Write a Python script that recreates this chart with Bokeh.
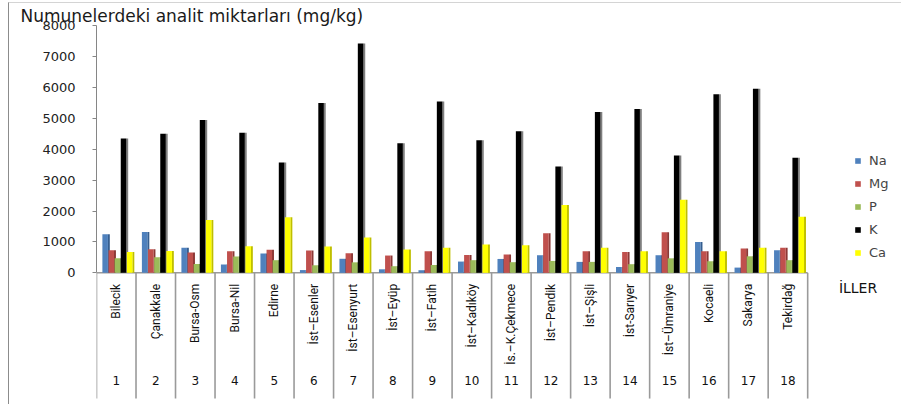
from math import pi
import numpy as np
from bokeh.plotting import figure
from bokeh.models import (ColumnDataSource, Legend, LegendItem, Label, Range1d, FixedTicker)
from bokeh.transform import dodge
from bokeh.embed import file_html
from bokeh.resources import INLINE

# ---------------- data ----------------
numbers = [str(i) for i in range(1, 19)]
provinces = ["Bilecik", "Çanakkale", "Bursa-Osm", "Bursa-Nil", "Edirne", "İst–Esenler",
             "İst–Esenyurt", "İst–Eyüp", "İst–Fatih", "İst–Kadıköy", "İs.–K.Çekmece",
             "İst–Pendik", "İst–Şişli", "İst-Sarıyer", "İst–Ümraniye", "Kocaeli",
             "Sakarya", "Tekirdağ"]
series_names = ["Na", "Mg", "P", "K", "Ca"]
Na = [1250, 1320, 810, 270, 630, 90, 455, 115, 85, 365, 450, 570, 355, 190, 570, 1000, 170, 730]
Mg = [730, 760, 655, 700, 750, 720, 635, 560, 700, 580, 590, 1280, 700, 675, 1310, 700, 785, 815]
P = [470, 505, 290, 525, 410, 245, 340, 215, 255, 410, 345, 385, 355, 280, 470, 375, 535, 410]
K = [4345, 4495, 4945, 4535, 3570, 5495, 7420, 4195, 5540, 4290, 4580, 3440, 5205, 5300, 3795, 5775, 5955, 3720]
Ca = [675, 710, 1710, 860, 1795, 850, 1140, 755, 815, 915, 890, 2195, 815, 700, 2365, 700, 815, 1815]
y_ticks = [0, 1000, 2000, 3000, 4000, 5000, 6000, 7000, 8000]
title_text = "Numunelerdeki analit miktarları (mg/kg)"
x_title = "İLLER"

colors = ["#4F81BD", "#C0504D", "#9BBB59", "#000000", "#FFFF00"]
side_colors = ["#355E8F", "#8C3836", "#728C40", "#7F7F7F", "#BFBF00"]

pos = np.arange(1, len(numbers) + 1)
source = ColumnDataSource(dict(x=pos, Na=Na, Mg=Mg, P=P, K=K, Ca=Ca,
                               name=provinces, num=numbers))

Y_BOTTOM = -4290
p = figure(width=893, height=402, x_range=Range1d(0.5, 20.9), y_range=Range1d(Y_BOTTOM, 8000),
           output_backend="svg", toolbar_location=None, x_axis_location=None)
p.min_border = 0
p.min_border_left = 87
p.min_border_right = 0
p.min_border_top = 21
p.min_border_bottom = 0
p.outline_line_color = None
p.xgrid.visible = False
p.ygrid.visible = False
p.styles = {"margin-left": "8px", "margin-top": "2px",
            "border-left": "1px solid #8c8c8c", "border-top": "1px solid #d4d4d4"}

# title
p.title.text = title_text
p.title.align = "left"
p.title.offset = -76
p.title.standoff = 0
p.title.text_font = "DejaVu Sans"
p.title.text_font_size = "17px"
p.title.text_font_style = "normal"
p.title.text_color = "#1a1a1a"

# category separators and base line
bounds = np.arange(0.5, len(numbers) + 1, 1.0)
p.segment(x0=bounds, y0=np.zeros_like(bounds), x1=bounds, y1=np.full_like(bounds, -4065),
          line_color="#9a9a9a", line_width=1.6)
p.segment(x0=[0.5], y0=[0], x1=[len(numbers) + 0.5], y1=[0], line_color="#9a9a9a", line_width=1.5)

# bars (face + darker side strip)
offsets = [-0.256, -0.101, 0.054, 0.209, 0.364]
renderers = []
for name, off, col, sc in zip(series_names, offsets, colors, side_colors):
    p.vbar(x=dodge("x", off + 0.068), top=name, width=0.05, source=source,
           fill_color=sc, line_color=None)
    r = p.vbar(x=dodge("x", off - 0.025), top=name, width=0.14, source=source,
               fill_color=col, line_color=None)
    renderers.append(r)

# category labels
p.text(x="x", y=-355, text="name", source=source, angle=pi / 2, text_align="right",
       text_baseline="middle", text_font={"value": "Roboto"}, text_font_size="12px",
       text_color="#111111")
p.text(x="x", y=-3484, text="num", source=source, text_align="center",
       text_baseline="middle", text_font={"value": "DejaVu Sans"}, text_font_size="12px",
       text_color="#111111")

# y axis
yax = p.yaxis[0]
yax.ticker = FixedTicker(ticks=y_ticks)
yax.bounds = (0, 8000)
yax.minor_tick_line_color = None
yax.axis_line_color = "#868686"
yax.major_tick_line_color = "#868686"
yax.major_tick_out = 4
yax.major_tick_in = 0
yax.major_label_standoff = 17
yax.major_label_text_font = "DejaVu Sans"
yax.major_label_text_font_size = "13px"
yax.major_label_text_color = "#222222"

legend = Legend(items=[LegendItem(label=n, renderers=[r]) for n, r in zip(series_names, renderers)],
                location=(758, 145), padding=0, spacing=8, glyph_width=7, glyph_height=7,
                label_height=14, label_standoff=8, label_text_font="DejaVu Sans",
                label_text_font_size="13px", border_line_color=None,
                background_fill_alpha=0)
p.add_layout(legend)

p.add_layout(Label(x=19.29, y=-484, text=x_title, text_font="DejaVu Sans",
                   text_font_size="14px", text_baseline="middle", text_color="#111111"))

open("out.html", "w").write(file_html(p, INLINE))
